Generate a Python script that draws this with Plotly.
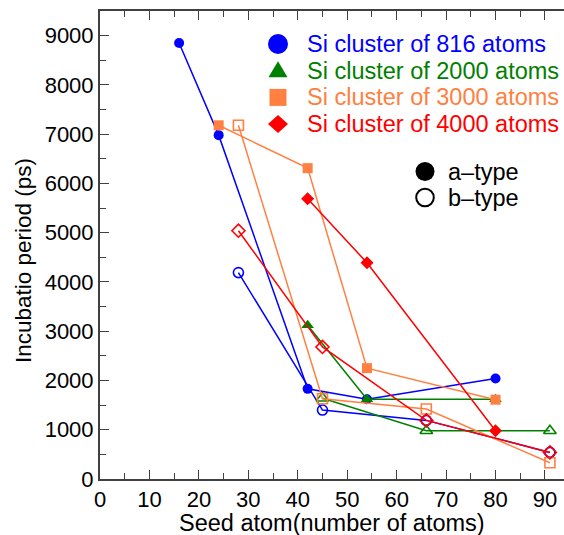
import plotly.graph_objects as go

# ---------------- data ----------------
x_816_a = [16, 24, 42, 54, 80]
y_816_a = [8850, 6980, 1830, 1620, 2040]
x_816_b = [28, 45, 66, 91]
y_816_b = [4190, 1400, 1190, 540]

x_2000_a = [42, 54, 80]
y_2000_a = [3120, 1620, 1620]
x_2000_b = [45, 66, 91]
y_2000_b = [1640, 980, 980]

x_3000_a = [24, 42, 54, 80]
y_3000_a = [7180, 6310, 2250, 1610]
x_3000_b = [28, 45, 66, 91]
y_3000_b = [7180, 1630, 1420, 330]

x_4000_a = [42, 54, 80]
y_4000_a = [5690, 4390, 980]
x_4000_b = [28, 45, 66, 91]
y_4000_b = [5040, 2680, 1190, 540]

series_labels = ["Si cluster of 816 atoms", "Si cluster of 2000 atoms",
                 "Si cluster of 3000 atoms", "Si cluster of 4000 atoms"]
type_labels = ["a\u2013type", "b\u2013type"]
x_title = "Seed atom(number of atoms)"
y_title = "Incubatio period (ps)"

# ---------------- style ----------------
BLUE = "#0000FF"
GREEN = "#008000"
ORANGE = "#FF8040"
RED = "#FF0000"
FONT = "Liberation Sans, Arial, sans-serif"

W, H = 564, 535
ML, MR, MT, MB = 100, 0, 11, 56
PW, PH = W - ML - MR, H - MT - MB

series = [
    (x_816_a, y_816_a, x_816_b, y_816_b, BLUE, "circle", 10, 10),
    (x_2000_a, y_2000_a, x_2000_b, y_2000_b, GREEN, "triangle-up", 11, 11),
    (x_3000_a, y_3000_a, x_3000_b, y_3000_b, ORANGE, "square", 10, 10),
    (x_4000_a, y_4000_a, x_4000_b, y_4000_b, RED, "diamond", 10, 10),
]

fig = go.Figure()
for xa, ya, xb, yb, col, sym, sa, sb in series:
    fig.add_trace(go.Scatter(
        x=xa, y=ya, mode="lines+markers",
        line=dict(color=col, width=1.5),
        marker=dict(symbol=sym, size=sa, color=col, line=dict(width=0)),
        showlegend=False, hoverinfo="x+y"))
    fig.add_trace(go.Scatter(
        x=xb, y=yb, mode="lines+markers",
        line=dict(color=col, width=1.5),
        marker=dict(symbol=sym + "-open", size=sb, color=col,
                    line=dict(width=1.6, color=col)),
        showlegend=False, hoverinfo="x+y"))

# ---------------- custom legend ----------------
def px_to_paper(px, py):
    return (px - ML) / PW, (H - MB - py) / PH

shapes = []
annotations = []
leg_x, leg_y0, leg_dy = 278, 44, 26.7
glyphs = [
    ("circle", None),
    ("path", "M -9.5 -6.5 L 9.5 -6.5 L 0 9.5 Z"),
    ("rect", None),
    ("path", "M -10 0 L 0 9 L 10 0 L 0 -9 Z"),
]
cols = [BLUE, GREEN, ORANGE, RED]
for i, (lab, col, (kind, path)) in enumerate(zip(series_labels, cols, glyphs)):
    py = leg_y0 + i * leg_dy
    ax, ay = px_to_paper(leg_x, py)
    base = dict(xref="paper", yref="paper", xsizemode="pixel", ysizemode="pixel",
                xanchor=ax, yanchor=ay, fillcolor=col, line=dict(width=0))
    if kind == "circle":
        shapes.append(dict(type="circle", x0=-10, x1=10, y0=-10, y1=10, **base))
    elif kind == "rect":
        shapes.append(dict(type="rect", x0=-8.5, x1=8.5, y0=-8.5, y1=8.5, **base))
    else:
        shapes.append(dict(type="path", path=path, **base))
    tx, ty = px_to_paper(305, py)
    annotations.append(dict(x=tx, y=ty, xref="paper", yref="paper", text=lab,
                            showarrow=False, xanchor="left", yanchor="middle",
                            font=dict(family=FONT, size=23.5, color=col)))

type_x, type_y0, type_dy = 425, 171.5, 26
for i, lab in enumerate(type_labels):
    py = type_y0 + i * type_dy
    ax, ay = px_to_paper(type_x, py)
    base = dict(xref="paper", yref="paper", xsizemode="pixel", ysizemode="pixel",
                xanchor=ax, yanchor=ay)
    if i == 0:
        shapes.append(dict(type="circle", x0=-9.5, x1=9.5, y0=-9.5, y1=9.5,
                           fillcolor="black", line=dict(width=0), **base))
    else:
        shapes.append(dict(type="circle", x0=-8.8, x1=8.8, y0=-8.8, y1=8.8,
                           fillcolor="rgba(0,0,0,0)", line=dict(width=2, color="black"), **base))
    tx, ty = px_to_paper(446, py)
    annotations.append(dict(x=tx, y=ty, xref="paper", yref="paper", text=lab,
                            showarrow=False, xanchor="left", yanchor="middle",
                            font=dict(family=FONT, size=23.5, color="black")))

# axis titles as annotations (precise placement)
yx, yy = px_to_paper(23, 261)
annotations.append(dict(x=yx, y=yy, xref="paper", yref="paper", text=y_title,
                        textangle=-90, showarrow=False, xanchor="center", yanchor="middle",
                        font=dict(family=FONT, size=22.5, color="black")))
xx, xy = px_to_paper(332, 523)
annotations.append(dict(x=xx, y=xy, xref="paper", yref="paper", text=x_title,
                        showarrow=False, xanchor="center", yanchor="middle",
                        font=dict(family=FONT, size=23.5, color="black")))

AXC = "#404040"
fig.update_layout(
    width=W, height=H,
    margin=dict(l=ML, r=MR, t=MT, b=MB, pad=0),
    paper_bgcolor="white", plot_bgcolor="white",
    font=dict(family=FONT, size=22, color="black"),
    shapes=shapes, annotations=annotations,
    showlegend=False,
    xaxis=dict(
        range=[0, 93.85], dtick=10, tick0=0,
        ticks="inside", ticklen=9, tickwidth=1.3, tickcolor=AXC,
        minor=dict(dtick=5, ticks="inside", ticklen=6, tickwidth=1.3, tickcolor=AXC),
        showline=True, linecolor=AXC, linewidth=2, mirror="ticks",
        showgrid=False, zeroline=False,
        tickfont=dict(family=FONT, size=22, color="black"),
    ),
    yaxis=dict(
        range=[0, 9500], dtick=1000, tick0=0,
        ticks="inside", ticklen=9, tickwidth=1.3, tickcolor=AXC,
        minor=dict(dtick=500, ticks="inside", ticklen=6, tickwidth=1.3, tickcolor=AXC),
        showline=True, linecolor=AXC, linewidth=2, mirror=False,
        showgrid=False, zeroline=False,
        tickfont=dict(family=FONT, size=22, color="black"),
    ),
)

fig.write_html("out.html", config={"displayModeBar": False},
               post_script="document.body.style.margin='0';document.body.style.overflow='hidden';")
